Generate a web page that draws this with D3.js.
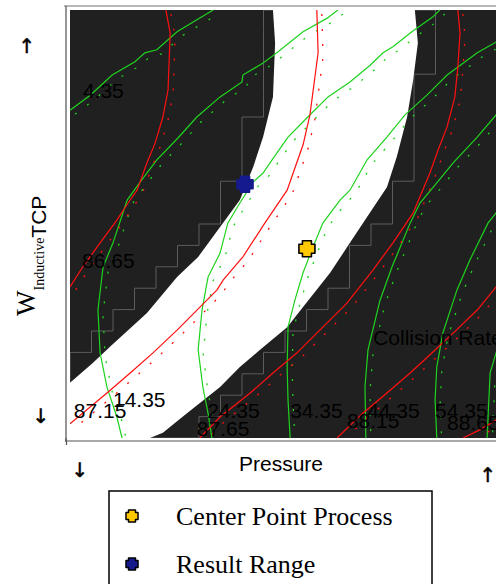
<!DOCTYPE html>
<html>
<head>
<meta charset="utf-8">
<script src="https://cdn.jsdelivr.net/npm/d3@7"></script>
<style>
  html, body { margin: 0; padding: 0; background: #fff; }
  svg { display: block; }
</style>
</head>
<body>
<div id="chart"></div>
<script>
// ---- data (Pressure, W) ----
const bandLeft = [[47.2,100],[47.7,92.3],[47.2,79.7],[44.9,70.3],[42.6,63.3],[39.5,55.6],[34.9,49.3],[29.8,42.3],[24.9,37.6],[17.9,29.2],[9.3,21.3],[5.3,17.5],[0,12.9]];
const bandRight = [[80.2,100],[80.9,92.3],[79.8,83.6],[78.4,75.0],[76.0,65.7],[73.7,58.6],[70.9,54.4],[65.1,45.6],[60.5,38.6],[54.2,30.6],[50.5,25.9],[44.2,20.6],[39.5,16.6],[34.9,11.9],[27.2,5.8],[21.6,1.2],[18.6,0]];

// Collision Rate contours (green)
const collision435 = [[0,76.6],[4.7,80.1],[9.8,84.8],[15.1,87.9],[17.4,90.0],[20.2,90.7],[24.9,94.9],[29.5,97.7],[33.3,100]];
const collision1435 = [[62.3,100],[59.8,98.1],[54.2,94.9],[48.1,90.0],[44.9,87.6],[40.2,84.8],[40.0,83.2],[34.9,79.7],[29.5,75.0],[25.1,70.1],[20.2,65.0],[16.3,59.8],[13.3,55.6],[10.0,45.6],[7.7,40.0],[6.5,29.9],[7.0,19.9],[8.6,11.9],[10.9,4.9],[12.1,0]];
const collision2435 = [[86.0,100],[84.4,98.4],[79.5,94.9],[75.1,91.4],[72.8,90.0],[69.8,87.1],[65.1,83.2],[60.0,79.7],[55.3,75.0],[50.7,70.3],[47.0,65.0],[44.9,61.9],[42.6,59.8],[39.5,54.9],[36.7,50.2],[34.9,43.2],[32.1,37.6],[30.7,29.9],[29.8,20.6],[30.9,11.9],[32.1,5.8],[33.0,0]];
const collision3435 = [[101,91.8],[99.1,92.5],[94.7,90.0],[87.7,84.8],[83.0,80.1],[77.9,75.5],[73.7,70.3],[69.1,65.0],[65.1,57.9],[62.8,55.6],[58.8,50.2],[56.5,44.6],[54.2,38.6],[52.3,32.2],[50.7,25.9],[50.5,16.6],[50.7,8.9],[51.2,0]];
const collision4435 = [[101,73.5],[99.1,75.5],[94.7,70.3],[89.1,64.3],[85.3,59.6],[81.4,54.9],[79.1,50.2],[74.9,40.0],[72.1,32.2],[69.3,20.6],[68.6,11.9],[68.8,0]];
const collision5435 = [[101,55.0],[99.1,52.6],[97.2,50.2],[93.0,41.6],[90.0,34.6],[86.7,24.5],[85.3,16.6],[84.9,8.9],[85.3,0]];
const collision6435 = [[101,23.0],[99.1,19.9],[97.7,15.2],[97.0,0]];

// second response contours (red)
const red8665 = [[22.3,100],[23.3,94.6],[22.8,81.3],[21.6,75.0],[19.8,68.9],[17.9,64.3],[15.6,57.9],[13.5,54.9],[10.9,50.9],[7.0,45.6],[3.0,40.0],[0,35.3]];
const red8715 = [[57.4,100],[57.7,90.0],[55.8,75.5],[54.2,68.5],[50.5,57.9],[45.3,50.2],[40.2,42.3],[35.6,36.9],[34.2,34.6],[24.9,25.2],[19.3,19.9],[14.0,15.2],[8.6,10.5],[0,3.3]];
const red8765 = [[90.2,100],[90.7,94.6],[90.2,86.7],[89.5,79.7],[87.7,72.7],[85.6,67.3],[83.7,61.9],[79.8,52.6],[75.1,45.6],[70.5,39.3],[64.4,31.5],[58.8,25.9],[52.8,19.9],[47.2,15.2],[41.9,10.5],[34.9,4.9],[30.2,0]];
const red8815 = [[101,37.0],[99.1,35.3],[94.7,29.9],[89.1,24.5],[84.4,20.1],[79.1,15.2],[73.7,10.5],[68.1,5.8],[62.1,0]];
const red8865 = [[101,7.5],[99.1,4.2],[95.3,1.9],[91.4,0]];

const greenLines = [collision435, collision1435, collision2435, collision3435, collision4435, collision5435, collision6435];
const redLines = [red8665, red8715, red8765, red8815, red8865];

// contour labels and where they sit (Pressure, W)
const labelText = ["4.35", "86.65", "87.15", "14.35", "24.35", "87.65", "34.35", "44.35", "88.15", "54.35", "88.65", "Collision Rate"];
const labelAt = [[3.0,79.4],[2.8,39.7],[0.9,4.7],[10.0,7.2],[31.9,4.7],[29.5,0.5],[51.2,4.7],[69.1,4.7],[64.4,2.3],[84.9,4.7],[87.7,1.9],[70.5,21.7]];

// points
const markerNames = ["Center Point Process", "Result Range"];
const markerAt = [[55.1,44.2],[40.7,59.3]];
const markerFill = ["#ffc800", "#151a8c"];

// ---- layout ----
const WIDTH = 496, HEIGHT = 584;
const PLOT = { LEFT: 70, RIGHT: 500, TOP: 10, BOTTOM: 438 };
const SANS = "'Liberation Sans', Arial, sans-serif";
const SERIF = "'Liberation Serif', 'Times New Roman', serif";

const x = d3.scaleLinear().domain([0, 100]).range([PLOT.LEFT, PLOT.RIGHT]);
const y = d3.scaleLinear().domain([0, 100]).range([PLOT.BOTTOM, PLOT.TOP]);

const svg = d3.select("#chart").append("svg")
    .attr("width", WIDTH)
    .attr("height", HEIGHT);

svg.append("clipPath").attr("id", "plotClip")
  .append("rect")
    .attr("x", PLOT.LEFT).attr("y", PLOT.TOP)
    .attr("width", PLOT.RIGHT - PLOT.LEFT).attr("height", PLOT.BOTTOM - PLOT.TOP);

const plot = svg.append("g").attr("clip-path", "url(#plotClip)");

plot.append("rect")
    .attr("x", PLOT.LEFT).attr("y", PLOT.TOP)
    .attr("width", PLOT.RIGHT - PLOT.LEFT).attr("height", PLOT.BOTTOM - PLOT.TOP)
    .attr("fill", "#202020");

// staircase of grid cells (5 x 5 units) touched by the sweet spot
function edgeAt(line, w) {
  for (let i = 0; i < line.length - 1; i++) {
    const [p0, w0] = line[i], [p1, w1] = line[i + 1];
    if (w <= w0 && w >= w1) {
      const t = w0 === w1 ? 0 : (w0 - w) / (w0 - w1);
      return p0 + t * (p1 - p0);
    }
  }
  return null;
}
function rowRange(line, lo, hi) {
  const vals = [edgeAt(line, lo), edgeAt(line, hi)];
  line.forEach(d => { if (d[1] > lo && d[1] < hi) vals.push(d[0]); });
  return vals.filter(v => v !== null);
}
const stairLeft = [], stairRight = [];
for (let r = 19; r >= 0; r--) {
  const lo = r * 5, hi = lo + 5;
  const lv = rowRange(bandLeft, lo, hi);
  const lp = lv.length && hi > 12.9 ? Math.max(0, Math.floor(d3.min(lv) / 5) * 5) : 0;
  stairLeft.push([lp, hi], [lp, lo]);
}
for (let r = 0; r < 20; r++) {
  const lo = r * 5, hi = lo + 5;
  const rv = rowRange(bandRight, lo, hi);
  const rp = Math.ceil(d3.max(rv) / 5) * 5;
  stairRight.push([rp, lo], [rp, hi]);
}
const line = d3.line().x(d => x(d[0])).y(d => y(d[1]));

plot.append("path")
    .attr("d", line(stairLeft.concat(stairRight)) + "Z")
    .attr("fill", "none")
    .attr("stroke", "#5c5c5c")
    .attr("stroke-width", 1);

// sweet spot band
const bandPoly = bandLeft.concat([[0, 0]], bandRight.slice().reverse());
plot.append("path")
    .attr("d", line(bandPoly) + "Z")
    .attr("fill", "#ffffff");

// contours: solid line plus dotted companion on the feasible side
function drawContours(data, colour) {
  const g = plot.append("g");
  g.selectAll("path.dots").data(data).join("path")
      .attr("class", "dots")
      .attr("d", line)
      .attr("transform", "translate(5,4)")
      .attr("fill", "none")
      .attr("stroke", colour)
      .attr("stroke-width", 1.3)
      .attr("stroke-dasharray", "2,13");
  g.selectAll("path.solid").data(data).join("path")
      .attr("class", "solid")
      .attr("d", line)
      .attr("fill", "none")
      .attr("stroke", colour)
      .attr("stroke-width", 1.2);
}
drawContours(greenLines, "#1ed21e");
drawContours(redLines, "#ff1010");

plot.selectAll("text.lbl").data(labelText).join("text")
    .attr("class", "lbl")
    .attr("x", (d, i) => x(labelAt[i][0]))
    .attr("y", (d, i) => y(labelAt[i][1]))
    .attr("font-family", SANS)
    .attr("font-size", 21)
    .attr("fill", "#000")
    .text(d => d);

// cross markers
function crossPath(size, thick) {
  const a = size / 2, b = thick / 2;
  const p = d3.path();
  p.moveTo(-b, -a); p.lineTo(b, -a); p.lineTo(b, -b); p.lineTo(a, -b);
  p.lineTo(a, b); p.lineTo(b, b); p.lineTo(b, a); p.lineTo(-b, a);
  p.lineTo(-b, b); p.lineTo(-a, b); p.lineTo(-a, -b); p.lineTo(-b, -b);
  p.closePath();
  return p.toString();
}
plot.selectAll("path.mark").data(markerAt).join("path")
    .attr("class", "mark")
    .attr("transform", d => `translate(${x(d[0])},${y(d[1])})`)
    .attr("d", crossPath(16, 9))
    .attr("fill", (d, i) => markerFill[i])
    .attr("stroke", (d, i) => i === 0 ? "#000" : markerFill[i])
    .attr("stroke-width", 1.6)
    .attr("stroke-linejoin", "round");

// ---- frame and axes ----
svg.append("line").attr("x1", 64).attr("x2", WIDTH).attr("y1", 6).attr("y2", 6)
    .attr("stroke", "#a0a0a0").attr("stroke-width", 1.5);
svg.append("line").attr("x1", 66).attr("x2", 66).attr("y1", 6).attr("y2", 442)
    .attr("stroke", "#505050").attr("stroke-width", 1.2);

const xAxis = svg.append("g")
    .attr("transform", `translate(0, ${PLOT.BOTTOM + 3})`)
    .call(d3.axisBottom(x.copy().range([66, PLOT.RIGHT])).tickValues([0]).tickSize(4).tickFormat(""));
xAxis.select(".domain").attr("stroke", "#555").attr("stroke-width", 1.2).attr("d", `M66,-3V0H${PLOT.RIGHT}`);
xAxis.selectAll(".tick line").attr("stroke", "#555").attr("stroke-width", 1.2);

svg.append("text")
    .attr("x", 281).attr("y", 471)
    .attr("text-anchor", "middle")
    .attr("font-family", SANS).attr("font-size", 21)
    .text("Pressure");

const yTitle = svg.append("text")
    .attr("transform", "translate(35, 316) rotate(-90)")
    .attr("font-family", SERIF);
yTitle.append("tspan").attr("font-size", 27).text("W");
yTitle.append("tspan").attr("font-size", 14).attr("dy", 9).text("Inductive");
yTitle.append("tspan").attr("font-size", 21).attr("dy", 2).attr("font-family", SANS).text("TCP");

// direction arrows
const arrows = [["\u2191", 27, 53], ["\u2193", 41, 423], ["\u2193", 80, 477], ["\u2191", 488, 482]];
svg.selectAll("text.arrow").data(arrows).join("text")
    .attr("class", "arrow")
    .attr("x", d => d[1]).attr("y", d => d[2])
    .attr("text-anchor", "middle")
    .attr("font-family", "'DejaVu Sans', sans-serif").attr("font-size", 20)
    .attr("fill", "#000")
    .attr("stroke", "#000").attr("stroke-width", 0.5)
    .text(d => d[0]);

// ---- legend ----
const legend = svg.append("g").attr("transform", "translate(109, 491)");
legend.append("rect")
    .attr("x", 0).attr("y", 0).attr("width", 323).attr("height", 120)
    .attr("fill", "#fff").attr("stroke", "#000").attr("stroke-width", 1.5);
const rows = legend.selectAll("g.row").data(markerNames).join("g")
    .attr("class", "row")
    .attr("transform", (d, i) => `translate(23, ${25 + i * 48})`);
rows.append("path")
    .attr("d", crossPath(12, 7))
    .attr("fill", (d, i) => markerFill[i])
    .attr("stroke", "#000").attr("stroke-width", 1.5)
    .attr("stroke-linejoin", "round");
rows.append("text")
    .attr("x", 44).attr("y", 9)
    .attr("font-family", SERIF).attr("font-size", 26)
    .text(d => d);
</script>
</body>
</html>
